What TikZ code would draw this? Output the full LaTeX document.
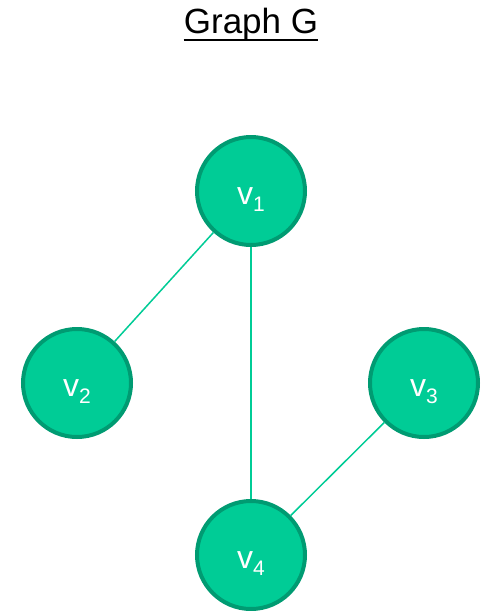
\documentclass[tikz,border=0pt]{standalone}
\usepackage{fontspec}
\setmainfont{Liberation Sans}
\definecolor{vfill}{HTML}{00CC96}
\definecolor{vborder}{HTML}{009B72}
\definecolor{edgec}{HTML}{00CC96}
\newcommand{\vlab}[1]{{\fontsize{32}{36}\selectfont v}\raisebox{-7pt}{\fontsize{21}{24}\selectfont #1}}
\begin{document}
\begin{tikzpicture}[x=1pt,y=-1pt,
  vert/.style={circle,draw=vborder,fill=vfill,line width=4pt,minimum size=108pt,inner sep=0pt,text=white},
  edge/.style={draw=edgec,line width=1.5pt}]
\useasboundingbox[fill=white] (0,0) rectangle (483,611);
\node[font=\fontsize{35}{38}\selectfont,anchor=base,inner xsep=0pt] (title) at (251,33) {Graph G};
\draw[line width=1.6pt] (title.base west) ++(0,7) coordinate (ul1) -- (title.base east |- ul1);
\node[vert] (v1) at (251,191) {};
\node[vert] (v2) at (77,383) {};
\node[vert] (v3) at (424,383) {};
\node[vert] (v4) at (251,555) {};
\node[text=white] (l1) at (251,200) {\vlab{1}};
\node[text=white] (l2) at (77,392) {\vlab{2}};
\node[text=white] (l3) at (424,392) {\vlab{3}};
\node[text=white] (l4) at (251,564) {\vlab{4}};
\path[edge] (v1) -- (v2);
\path[edge] (v1) -- (v4);
\path[edge] (v3) -- (v4);
\end{tikzpicture}
\end{document}
